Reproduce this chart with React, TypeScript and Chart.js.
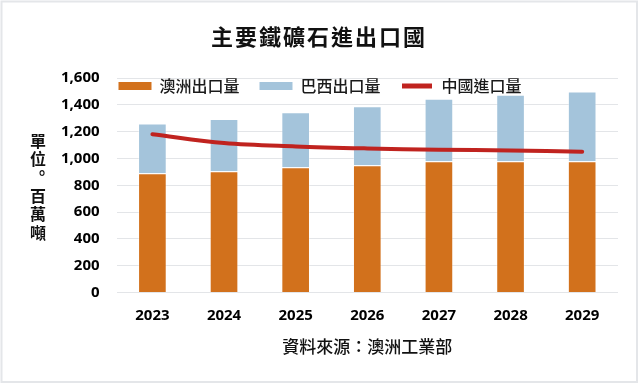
import React, { useEffect, useRef } from 'react';
import { Chart, registerables } from 'chart.js';

Chart.register(...registerables);

const years = ['2023', '2024', '2025', '2026', '2027', '2028', '2029'];
const australiaExports = [890, 905, 935, 950, 980, 980, 980];
const brazilExports = [370, 390, 410, 440, 465, 495, 520];
const chinaImports = [1180, 1115, 1090, 1075, 1065, 1060, 1050];
const seriesNames = ['澳洲出口量', '巴西出口量', '中國進口量'];
const yMin = 0;
const yMax = 1600;
const yStep = 200;
const titleText = '主要鐵礦石進出口國';
const yTitleChars = ['單', '位', '。', '百', '萬', '噸'];
const sourceText = '資料來源：澳洲工業部';

const ORANGE = '#D2711C';
const BLUE = '#A4C4DB';
const RED = '#C0231F';
const CJK = "'Noto Sans CJK TC', 'Noto Sans CJK SC', sans-serif";
const NUM = "'Open Sans', 'DejaVu Sans', sans-serif";

const decorPlugin = {
  id: 'decor',
  beforeLayout(chart: any) {
    const lg = chart.legend;
    if (lg && !lg.__patched) {
      const orig = lg.fit;
      lg.fit = function () {
        orig.call(this);
        this.height = 0;
      };
      lg.__patched = true;
    }
  },
  afterLayout(chart: any) {
    const lg = chart.legend;
    if (lg) {
      lg.left = 0;
      lg.right = chart.width;
      lg.width = chart.width;
      lg.top = 58;
      lg.bottom = 58 + 40;
    }
  },
  beforeDraw(chart: any) {
    const ctx = chart.ctx;
    ctx.save();
    ctx.fillStyle = '#ffffff';
    ctx.fillRect(0, 0, chart.width, chart.height);
    ctx.strokeStyle = '#E4E6E9';
    ctx.lineWidth = 2;
    ctx.strokeRect(1.5, 1.5, 635.5, 380.5);
    ctx.restore();
  },
  afterDraw(chart: any) {
    const ctx = chart.ctx;
    ctx.save();
    ctx.fillStyle = '#111111';
    ctx.textAlign = 'center';
    ctx.textBaseline = 'middle';
    ctx.font = `bold 22px ${CJK}`;
    try { (ctx as any).letterSpacing = '2px'; } catch (e) {}
    ctx.fillText(titleText, 319, 37);
    try { (ctx as any).letterSpacing = '0px'; } catch (e) {}
    ctx.font = `bold 16px ${CJK}`;
    yTitleChars.forEach((ch, i) => {
      const y = 141 + i * 18.3;
      if (ch === '。') {
        ctx.fillText(ch, 42, 173);
      } else {
        ctx.fillText(ch, 38, y);
      }
    });
    ctx.restore();
  },
};

export default function App() {
  const ref = useRef<HTMLCanvasElement | null>(null);

  useEffect(() => {
    if (!ref.current) return;
    const defaultGen = (Chart as any).defaults.plugins.legend.labels.generateLabels;
    const chart = new Chart(ref.current, {
      type: 'bar',
      data: {
        labels: years,
        datasets: [
          {
            type: 'bar',
            label: seriesNames[0],
            data: australiaExports,
            backgroundColor: ORANGE,
            borderColor: 'rgba(255,255,255,0.35)',
            borderWidth: 1,
            stack: 'exports',
            order: 1,
            barPercentage: 0.4,
            categoryPercentage: 1,
          },
          {
            type: 'bar',
            label: seriesNames[1],
            data: brazilExports,
            backgroundColor: BLUE,
            borderColor: 'rgba(255,255,255,0.35)',
            borderWidth: 1,
            stack: 'exports',
            order: 1,
            barPercentage: 0.4,
            categoryPercentage: 1,
          },
          {
            type: 'line',
            label: seriesNames[2],
            data: chinaImports,
            borderColor: RED,
            backgroundColor: RED,
            borderWidth: 4,
            borderCapStyle: 'round',
            tension: 0.35,
            pointRadius: 0,
            pointHoverRadius: 0,
            stack: 'china',
            order: 0,
          } as any,
        ],
      },
      options: {
        animation: false,
        responsive: true,
        maintainAspectRatio: false,
        locale: 'en-US',
        layout: { padding: { left: 44, right: 22, top: 78, bottom: 29 } },
        plugins: {
          title: { display: false },
          tooltip: { enabled: false },
          legend: {
            display: true,
            position: 'top',
            labels: {
              boxWidth: 33,
              boxHeight: 8,
              padding: 20,
              color: '#1a1a1a',
              font: { family: CJK, size: 16, weight: '500' },
              sort: (a: any, b: any) => a.datasetIndex - b.datasetIndex,
              generateLabels: (c: any) => {
                const items = defaultGen(c);
                return items.map((it: any) => {
                  if (it.datasetIndex === 2) {
                    return { ...it, fillStyle: RED, strokeStyle: '#ffffff', lineWidth: 3 };
                  }
                  return { ...it, lineWidth: 0 };
                });
              },
            },
          },
        },
        scales: {
          x: {
            stacked: true,
            grid: { display: false, drawTicks: false },
            border: { display: false },
            ticks: {
              color: '#000000',
              padding: 14,
              font: { family: NUM, size: 15, weight: 'bold' },
            },
            title: {
              display: true,
              text: sourceText,
              color: '#111111',
              font: { family: CJK, size: 17, weight: '500' },
              padding: { top: -2, bottom: 0 },
            },
          },
          y: {
            stacked: true,
            min: yMin,
            max: yMax,
            grid: { color: '#E3E5E8', lineWidth: 1, drawTicks: false },
            border: { display: false },
            ticks: {
              stepSize: yStep,
              color: '#000000',
              padding: 17,
              font: { family: NUM, size: 15, weight: 'bold' },
            },
          },
        },
      },
      plugins: [decorPlugin as any],
    });
    return () => chart.destroy();
  }, []);

  return (
    <div style={{ position: 'absolute', left: 0, top: 0, width: 640, height: 386 }}>
      <canvas ref={ref} />
    </div>
  );
}
